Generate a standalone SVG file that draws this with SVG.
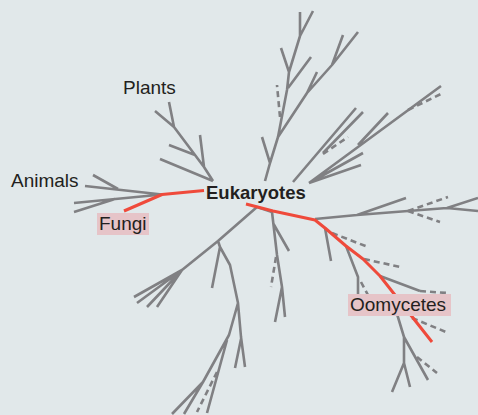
<svg xmlns="http://www.w3.org/2000/svg" width="478" height="415" viewBox="0 0 478 415">
<style>
.g{fill:none;stroke:#808083;stroke-width:2.6;stroke-linecap:butt;stroke-linejoin:round}
.d{fill:none;stroke:#808083;stroke-width:2.6;stroke-dasharray:6 4}
.r{fill:none;stroke:#ef4a3b;stroke-width:3;stroke-linejoin:round}
.t{font-family:"Liberation Sans",Arial,sans-serif;font-size:19px;fill:#231f20}
.b{font-family:"Liberation Sans",Arial,sans-serif;font-size:18.5px;font-weight:bold;fill:#231f20}
.hl{fill:#e6c4c8}
</style>
<rect width="478" height="415" fill="#e1e8ea"/>
<g id="connectors">
<g id="animals-branch">
<path class="g" d="M162,194.5 L85,186 M118,189 L93,175 M162,194.5 L74,203 M115,199 L74,212"/>
</g>
<g id="plants-branch">
<path class="g" d="M213,181 L204,167 L174,127 L155,111 M174,127 L169,102 M204,167 L200,135 M195,155 L169,145 M213,181 L160,159"/>
</g>
<g id="upper-branch">
<path class="g" d="M265,181 L270,163 L278,137 L287,90 L289,72 L300,36 L300,12 M300,36 L313,11 M270,163 L262,137 M278,137 L307,93 L332,65 L358,32 M307,93 L317,72 M332,65 L343,35 M288,88 L311,57 M289,72 L281,48"/>
<path class="d" d="M280,117 L277,85"/>
<path class="g" d="M293,182 L356,108 M323,153 L363,112 M309,183 L441,86 M309,183 L363,153 M309,183 L361,165 M358,145 L388,113"/>
<path class="d" d="M323,154 L348,137 M408,110 L443,93"/>
</g>
<g id="right-branch">
<path class="g" d="M315,219 L357,215 L408,211 L447,208 L478,211 M357,215 L406,198 M447,208 L478,198 M325,228 L331,261 M346,246 L358,277 L358,296 M380,276 L420,291"/>
<path class="d" d="M408,211 L448,197 M408,211 L440,222 M332,233 L368,247 M361,282 L368,295 M364,259 L400,267 M420,291 L447,293"/>
<path class="g" d="M394,304 L404,337 L404,363 L392,392 M404,363 L410,387 M404,337 L428,380"/>
<path class="d" d="M417,357 L437,373 M412,318 L446,332"/>
</g>
<g id="lower-left-branch">
<path class="g" d="M257,207 L272,212 M257,207 L218,241 L182,270 M182,270 L134,297 M182,270 L137,303 M182,270 L147,307 M182,270 L157,307 M218,241 L220,247 L212,288 M220,247 L230,265 L238,303 L241,337 L245,367 M241,339 L235,368 M238,303 L229,335 L203,382 L172,414 M203,382 L184,414 M227,340 L207,413"/>
<path class="d" d="M217,372 L197,412"/>
</g>
<g id="middle-branch">
<path class="g" d="M272,212 L277,255 L282,287 L285,317 M273,223 L289,251 M282,287 L275,322"/>
<path class="d" d="M276,257 L271,287"/>
</g>
<g id="red-paths">
<path class="r" d="M204,190.5 L162,194.5 L124,211"/>
<path class="r" d="M246,204 L273,211 L315,220 L325,228 L346,246 L363,259 L380,276 L432,342"/>
</g>
</g>
<g id="eukaryotes"><text class="b" x="206" y="199">Eukaryotes</text></g>
<g id="plants"><text class="t" x="123" y="94">Plants</text></g>
<g id="animals"><text class="t" x="11" y="187">Animals</text></g>
<g id="fungi"><rect class="hl" x="97" y="213" width="52" height="22"/><text class="t" x="99" y="229.5">Fungi</text></g>
<g id="oomycetes"><rect class="hl" x="348" y="294" width="103" height="22"/><text class="t" x="350" y="311">Oomycetes</text></g>
</svg>
